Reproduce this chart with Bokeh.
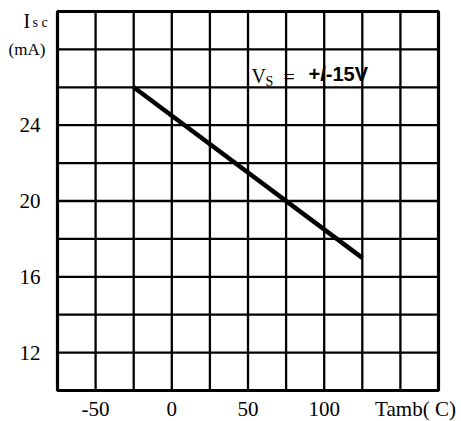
from bokeh.plotting import figure
from bokeh.models import Range1d, Label
from bokeh.core.properties import value
from bokeh.embed import file_html
from bokeh.resources import INLINE

# ---- Data ----
temps = [-25, 125]          # Tamb (C)
isc = [26, 17]              # Isc (mA)
x_ticks = [-50, 0, 50, 100]
x_tick_labels = ["-50", "0", "50", "100"]
y_ticks = [12, 16, 20, 24]
y_tick_labels = ["12", "16", "20", "24"]
x_grid = [-75, -50, -25, 0, 25, 50, 75, 100, 125, 150, 175]
y_grid = [10, 12, 14, 16, 18, 20, 22, 24, 26, 28, 30]

SERIF = "Liberation Serif"
SANS = "Liberation Sans"

# ---- Layout (pixel geometry of the chart box inside the canvas) ----
W, H = 461, 421
BOX_L, BOX_R, BOX_T, BOX_B = 57, 438, 11, 390
x0, x1 = x_grid[0], x_grid[-1]
y0, y1 = y_grid[0], y_grid[-1]
sx = (BOX_R - BOX_L) / (x1 - x0)
sy = (BOX_B - BOX_T) / (y1 - y0)
xs = x0 - BOX_L / sx
xe = xs + W / sx
ye = y1 + BOX_T / sy
ys = ye - H / sy


def px_x(px):
    return xs + px / sx


def px_y(py):
    return ye - py / sy


p = figure(width=W, height=H, output_backend="svg", toolbar_location=None,
           x_range=Range1d(xs, xe), y_range=Range1d(ys, ye),
           x_axis_location=None, y_axis_location=None,
           min_border=0, min_border_left=0, min_border_right=0,
           min_border_top=0, min_border_bottom=0)
p.grid.visible = False
p.outline_line_color = None
p.background_fill_color = "white"
p.border_fill_color = "white"

# grid lines
p.segment(x0=x_grid, x1=x_grid, y0=[y0] * len(x_grid), y1=[y1] * len(x_grid),
          line_color="black", line_width=2.3)
p.segment(x0=[x0] * len(y_grid), x1=[x1] * len(y_grid), y0=y_grid, y1=y_grid,
          line_color="black", line_width=2.3)
# box outline
p.quad(left=[x0], right=[x1], bottom=[y0], top=[y1], fill_color=None,
       line_color="black", line_width=3.2)

# tick labels
p.text(x=x_ticks, y=[px_y(408)] * len(x_ticks), text=x_tick_labels,
       text_align="center", text_baseline="middle", text_font=value(SERIF),
       text_font_size="21px", text_color="black")
p.text(x=[px_x(40)] * len(y_ticks), y=y_ticks, text=y_tick_labels,
       text_align="right", text_baseline="middle", text_font=value(SERIF),
       text_font_size="21px", text_color="black")

# axis titles
p.add_layout(Label(x=px_x(415), y=px_y(408), text="Tamb( C)", text_align="center",
                   text_baseline="middle", text_font=SERIF, text_font_size="21px",
                   text_color="black"))
p.add_layout(Label(x=px_x(23), y=px_y(20), text="I", text_align="left",
                   text_baseline="alphabetic", text_font=SERIF, text_font_size="20px",
                   text_color="black"))
p.add_layout(Label(x=px_x(32), y=px_y(22), text="s c", text_align="left",
                   text_baseline="alphabetic", text_font=SERIF, text_font_size="14px",
                   text_color="black"))
p.add_layout(Label(x=px_x(8), y=px_y(49), text="(mA)", text_align="left",
                   text_baseline="alphabetic", text_font=SERIF, text_font_size="17px",
                   text_color="black"))

# Vs annotation
p.add_layout(Label(x=px_x(251), y=px_y(75), text="V", text_align="left",
                   text_baseline="alphabetic", text_font=SERIF, text_font_size="20px",
                   text_color="black"))
p.add_layout(Label(x=px_x(265), y=px_y(81), text="S", text_align="left",
                   text_baseline="alphabetic", text_font=SERIF, text_font_size="14px",
                   text_color="black"))
p.add_layout(Label(x=px_x(283), y=px_y(76), text="=", text_align="left",
                   text_baseline="alphabetic", text_font=SERIF, text_font_size="20px",
                   text_color="black"))
p.add_layout(Label(x=px_x(308), y=px_y(73), text="+/-15V", text_align="left",
                   text_baseline="alphabetic", text_font=SANS, text_font_style="bold",
                   text_font_size="20px", text_color="black"))

# data line
p.line(temps, isc, line_color="black", line_width=4.5)

open("out.html", "w").write(file_html(p, INLINE))
